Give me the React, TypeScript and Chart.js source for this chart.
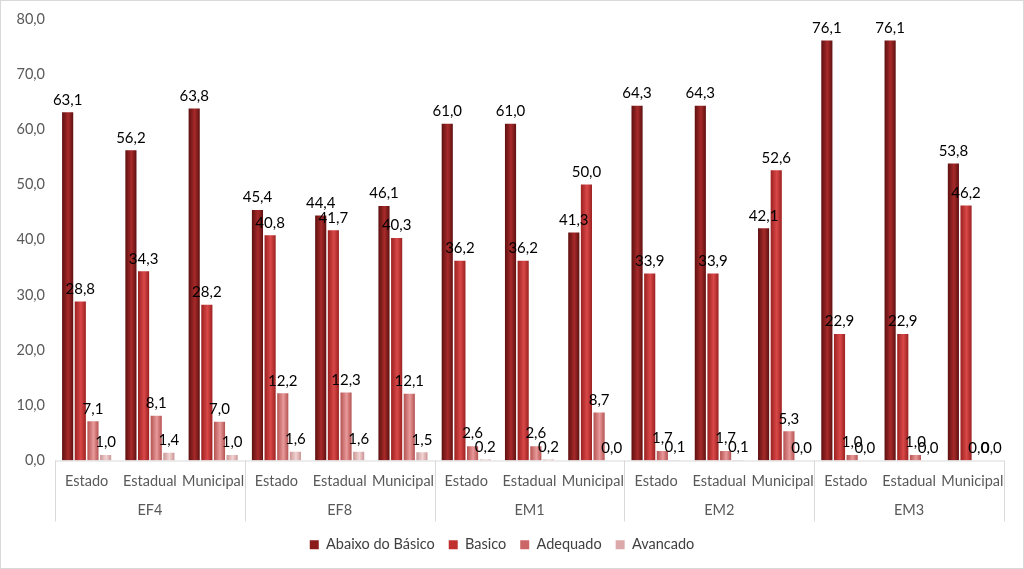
import React, { useEffect, useRef } from "react";
import { Chart, registerables } from "chart.js";

Chart.register(...registerables);

const categories = [
  "Estado", "Estadual", "Municipal",
  "Estado", "Estadual", "Municipal",
  "Estado", "Estadual", "Municipal",
  "Estado", "Estadual", "Municipal",
  "Estado", "Estadual", "Municipal",
];
const groups = ["EF4", "EF8", "EM1", "EM2", "EM3"];
const groupSize = 3;

const abaixoDoBasico = [63.1, 56.2, 63.8, 45.4, 44.4, 46.1, 61.0, 61.0, 41.3, 64.3, 64.3, 42.1, 76.1, 76.1, 53.8];
const basico = [28.8, 34.3, 28.2, 40.8, 41.7, 40.3, 36.2, 36.2, 50.0, 33.9, 33.9, 52.6, 22.9, 22.9, 46.2];
const adequado = [7.1, 8.1, 7.0, 12.2, 12.3, 12.1, 2.6, 2.6, 8.7, 1.7, 1.7, 5.3, 1.0, 1.0, 0.0];
const avancado = [1.0, 1.4, 1.0, 1.6, 1.6, 1.5, 0.2, 0.2, 0.0, 0.1, 0.1, 0.0, 0.0, 0.0, 0.0];

const seriesNames = ["Abaixo do Básico", "Basico", "Adequado", "Avancado"];
const yTicks = [0, 10, 20, 30, 40, 50, 60, 70, 80];

const FONT = "Lato, 'Open Sans', sans-serif";
const fmt = (v: number) => v.toFixed(1).replace(".", ",");

// [edge, center, solid legend]
const palette = [
  ["#5e1010", "#a82a2a", "#8b1a1a"],
  ["#9c2020", "#d94848", "#c0302f"],
  ["#b65252", "#e89a9a", "#cc6666"],
  ["#c99595", "#f3d3d3", "#dba9a9"],
];

const gradientPlugin = {
  id: "barGradient",
  beforeDatasetsDraw(chart: any) {
    const ctx = chart.ctx;
    chart.data.datasets.forEach((ds: any, di: number) => {
      const meta = chart.getDatasetMeta(di);
      meta.data.forEach((el: any) => {
        const w = el.width || 1;
        const g = ctx.createLinearGradient(el.x - w / 2, 0, el.x + w / 2, 0);
        g.addColorStop(0, palette[di][0]);
        g.addColorStop(0.55, palette[di][1]);
        g.addColorStop(1, palette[di][0]);
        el.options = { ...el.options, backgroundColor: g };
      });
    });
  },
};

const labelPlugin = {
  id: "valueLabels",
  afterDatasetsDraw(chart: any) {
    const ctx = chart.ctx;
    ctx.save();
    ctx.font = `15px ${FONT}`;
    ctx.fillStyle = "#000000";
    ctx.textAlign = "center";
    ctx.textBaseline = "bottom";
    chart.data.datasets.forEach((ds: any, di: number) => {
      const meta = chart.getDatasetMeta(di);
      meta.data.forEach((el: any, i: number) => {
        ctx.fillText(fmt(ds.data[i]), el.x, el.y - 5);
      });
    });
    ctx.restore();
  },
};

const axisPlugin = {
  id: "groupAxis",
  afterDraw(chart: any) {
    const ctx = chart.ctx;
    const x = chart.scales.x;
    const area = chart.chartArea;
    ctx.save();
    ctx.strokeStyle = "#d9d9d9";
    ctx.lineWidth = 1;
    ctx.beginPath();
    ctx.moveTo(area.left, area.bottom + 0.5);
    ctx.lineTo(area.right, area.bottom + 0.5);
    for (let g = 0; g <= groups.length; g++) {
      const px = Math.round(x.getPixelForValue(g * groupSize - 0.5)) + 0.5;
      ctx.moveTo(px, area.bottom);
      ctx.lineTo(px, area.bottom + 61);
    }
    ctx.stroke();
    ctx.font = `14.5px ${FONT}`;
    ctx.fillStyle = "#595959";
    ctx.textAlign = "center";
    ctx.textBaseline = "middle";
    groups.forEach((name, g) => {
      const c = x.getPixelForValue(g * groupSize + (groupSize - 1) / 2);
      ctx.fillText(name, c, area.bottom + 50);
    });
    // outer border
    ctx.strokeStyle = "#d9d9d9";
    ctx.strokeRect(0.5, 0.5, chart.width - 1, chart.height - 1);
    ctx.restore();
  },
};

export default function App() {
  const ref = useRef<HTMLCanvasElement | null>(null);
  useEffect(() => {
    if (!ref.current) return;
    const chart = new Chart(ref.current, {
      type: "bar",
      data: {
        labels: categories,
        datasets: [abaixoDoBasico, basico, adequado, avancado].map((d, i) => ({
          label: seriesNames[i],
          data: d,
          backgroundColor: palette[i][2],
          borderWidth: 0,
          categoryPercentage: 0.8,
          barPercentage: 0.88,
        })),
      },
      options: {
        animation: false,
        responsive: false,
        maintainAspectRatio: false,
        layout: { padding: { top: 19, right: 20, left: 0, bottom: 7 } },
        plugins: {
          tooltip: { enabled: false },
          legend: {
            position: "bottom",
            labels: {
              boxWidth: 9,
              boxHeight: 9,
              padding: 14,
              color: "#404040",
              font: { size: 14.5, family: FONT },
            },
          },
        },
        scales: {
          x: {
            grid: { display: false, drawTicks: false },
            border: { display: false },
            ticks: {
              color: "#595959",
              font: { size: 14.5, family: FONT },
              padding: 12,
              maxRotation: 0,
              autoSkip: false,
            },
            afterFit: (s: any) => { s.height = 63; },
          },
          y: {
            min: 0,
            max: 80,
            afterBuildTicks: (s: any) => { s.ticks = yTicks.map((v) => ({ value: v })); },
            grid: { display: false, drawTicks: false },
            border: { display: false },
            ticks: {
              color: "#595959",
              font: { size: 14.5, family: FONT },
              padding: 10,
              callback: (v: any) => fmt(Number(v)),
            },
            afterFit: (s: any) => { s.width = 55; },
          },
        },
      },
      plugins: [gradientPlugin, labelPlugin, axisPlugin],
    });
    return () => chart.destroy();
  }, []);
  return (
    <div style={{ position: "fixed", left: 0, top: 0, width: 1024, height: 569, background: "#fff" }}>
      <canvas ref={ref} width={1024} height={569} style={{ width: 1024, height: 569 }} />
    </div>
  );
}
